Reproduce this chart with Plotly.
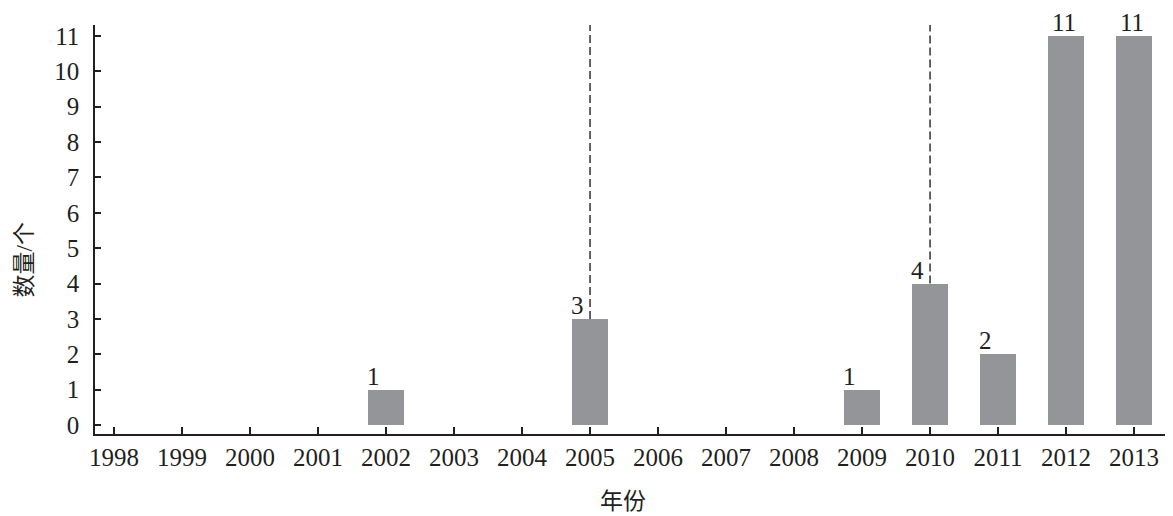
import plotly.graph_objects as go

years = list(range(1998, 2014))
counts = [0, 0, 0, 0, 1, 0, 0, 3, 0, 0, 0, 1, 4, 2, 11, 11]
dashed_years = [2005, 2010]
y_ticks = list(range(0, 12))
x_title = "年份"
y_title = "数量/个"

bar_color = "#939598"
ink = "#231f20"
font_family = "Liberation Serif, Times New Roman, Noto Sans CJK SC, serif"
tick_size = 25

bx = [y for y, c in zip(years, counts) if c > 0]
by = [c for c in counts if c > 0]

fig = go.Figure()
fig.add_trace(go.Bar(x=bx, y=by, width=0.52, marker=dict(color=bar_color, line=dict(width=0)),
                     showlegend=False, hoverinfo="skip"))

y_top = 11.31
for dy in dashed_years:
    v = counts[years.index(dy)]
    fig.add_trace(go.Scatter(x=[dy, dy], y=[v, y_top], mode="lines",
                             line=dict(color=ink, width=1.4, dash="8px,4px"),
                             showlegend=False, hoverinfo="skip", cliponaxis=False))

annotations = []
for x, v in zip(bx, by):
    annotations.append(dict(x=x, y=v, xref="x", yref="y", text=str(v), showarrow=False,
                            yanchor="bottom", xanchor="center",
                            xshift=-13 if v < 10 else -2, yshift=-2,
                            font=dict(family=font_family, size=tick_size, color=ink)))
annotations.append(dict(x=0.5, y=0, xref="paper", yref="paper", text=x_title, showarrow=False,
                        xanchor="center", yanchor="middle", yshift=-67, xshift=-8,
                        font=dict(family=font_family, size=23, color=ink)))
annotations.append(dict(x=0, y=0.5, xref="paper", yref="paper", text=y_title, showarrow=False,
                        xanchor="center", yanchor="middle", xshift=-71, yshift=-31, textangle=-90,
                        font=dict(family=font_family, size=23, color=ink)))

# page body has an 8px default margin; figure is sized to fill the remaining window
fig.update_layout(
    width=1165, height=508,
    margin=dict(l=87, r=7, t=17, b=82, autoexpand=False),
    paper_bgcolor="white", plot_bgcolor="white",
    font=dict(family=font_family, size=tick_size, color=ink),
    annotations=annotations,
    bargap=0,
)
fig.update_xaxes(range=[1997.72, 2013.47], tickmode="array", tickvals=years,
                 ticktext=[str(y) for y in years], ticks="inside", ticklen=7, tickwidth=1.5,
                 tickcolor=ink, showline=True, linecolor=ink, linewidth=1.5, showgrid=False,
                 zeroline=False, automargin=False,
                 tickfont=dict(family=font_family, size=tick_size, color=ink))
fig.update_yaxes(range=[-0.255, y_top], tickmode="array", tickvals=y_ticks,
                 ticks="inside", ticklen=6, tickwidth=1.5, tickcolor=ink,
                 showline=True, linecolor=ink, linewidth=1.5, showgrid=False, zeroline=False,
                 ticklabelstandoff=9, automargin=False,
                 tickfont=dict(family=font_family, size=tick_size, color=ink))

fig.write_html("out.html")
